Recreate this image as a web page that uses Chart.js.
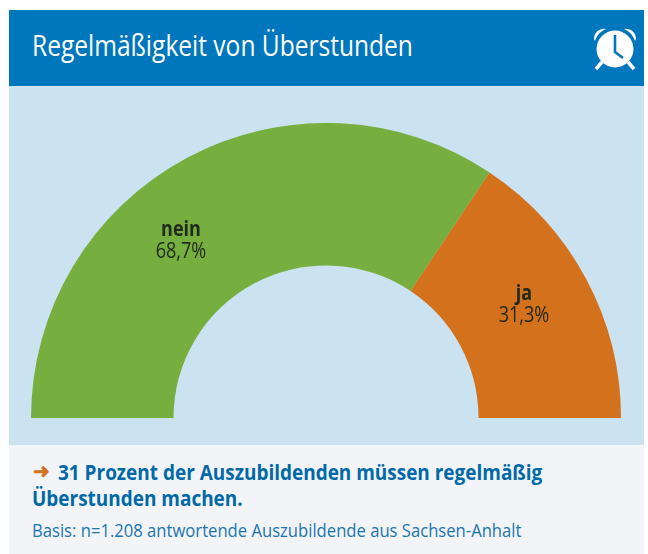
<!DOCTYPE html>
<html lang="de"><head><meta charset="utf-8">
<script src="https://cdn.jsdelivr.net/npm/chart.js@4/dist/chart.umd.min.js"></script>
<style>
html,body{margin:0;padding:0;background:#fff;width:648px;height:554px;overflow:hidden;font-family:"Open Sans",sans-serif}
#header{position:absolute;left:9px;top:10px;width:635px;height:76px;background:#0076bd}
#title{position:absolute;left:32px;top:26px;color:#fff;font-size:30px;line-height:38px;white-space:nowrap;transform-origin:0 0;transform:scaleX(.818)}
#icon{position:absolute;left:592px;top:26px}
#plot{position:absolute;left:9px;top:86px;width:635px;height:359px;background:#cbe2f1}
#wrap{position:absolute;left:31px;top:123px;width:590px;height:295px}
#foot{position:absolute;left:9px;top:445px;width:635px;height:109px;background:#f3f4f8}
.t{position:absolute;left:32px;white-space:nowrap;color:#0069a8;transform-origin:0 0}
#l1,#l2{font-size:22px;font-weight:700;line-height:26px;transform:scaleX(.862)}
#l1{left:58px;top:458px}#l2{top:484px}
#l3{top:518px;font-size:19px;line-height:24px;transform:scaleX(.875);color:#1a76b0}
#arrow{position:absolute;left:33px;top:458px;font-size:20px;line-height:26px;font-weight:700;color:#d4711c}
</style></head><body>
<div id="header"></div><div id="title">Regelmäßigkeit von Überstunden</div>
<svg id="icon" width="46" height="46" viewBox="0 0 46 46" aria-hidden="true">
<path d="M2 13C2 6 8 2 14 3 9 5 5 9 3 15Z M44 13C44 6 38 2 32 3 37 5 41 9 43 15Z" fill="#fff"/>
<path d="M10 36L4 43M36 36L42 43" stroke="#fff" stroke-width="3.5"/>
<circle cx="23" cy="23" r="18.5" fill="#fff"/>
<path d="M23 9V26L31 32" fill="none" stroke="#0076bd" stroke-width="2.6"/>
</svg>
<div id="plot"></div>
<div id="wrap"><canvas id="c" width="590" height="295"></canvas></div>
<div id="foot"></div>
<div id="arrow">➜</div>
<div class="t" id="l1">31 Prozent der Auszubildenden müssen regelmäßig</div>
<div class="t" id="l2">Überstunden machen.</div>
<div class="t" id="l3">Basis: n=1.208 antwortende Auszubildende aus Sachsen-Anhalt</div>
<script>
const categories = ["nein", "ja"];
const shares = [68.7, 31.3];
const sliceColors = ["#76ae3f", "#d4711c"];
const labelOffsets = [[-145, -188], [198, -124]];
const fmt = v => v.toFixed(1).replace(".", ",") + "%";
const sliceLabels = {
  id: "sliceLabels",
  afterDatasetsDraw(chart) {
    const ctx = chart.ctx, arcs = chart.getDatasetMeta(0).data;
    ctx.save();
    ctx.textAlign = "center"; ctx.textBaseline = "middle"; ctx.fillStyle = "#1f2a1c";
    arcs.forEach((a, i) => {
      const x = a.x + labelOffsets[i][0], y = a.y + labelOffsets[i][1];
      ctx.save(); ctx.translate(x, y); ctx.scale(.86, 1);
      ctx.font = "700 21px 'Open Sans'"; ctx.fillText(categories[i], 0, 0);
      ctx.font = "400 21px 'Open Sans'"; ctx.fillText(fmt(shares[i]), 0, 22);
      ctx.restore();
    });
    ctx.restore();
  }
};
new Chart(document.getElementById("c"), {
  type: "doughnut",
  data: { labels: categories, datasets: [{ data: shares, backgroundColor: sliceColors, borderWidth: 0 }] },
  options: {
    responsive: false, animation: false, rotation: -90, circumference: 180, cutout: "51.7%",
    layout: { padding: 0 },
    plugins: { legend: { display: false }, tooltip: { enabled: false } }
  },
  plugins: [sliceLabels]
});
</script></body></html>
